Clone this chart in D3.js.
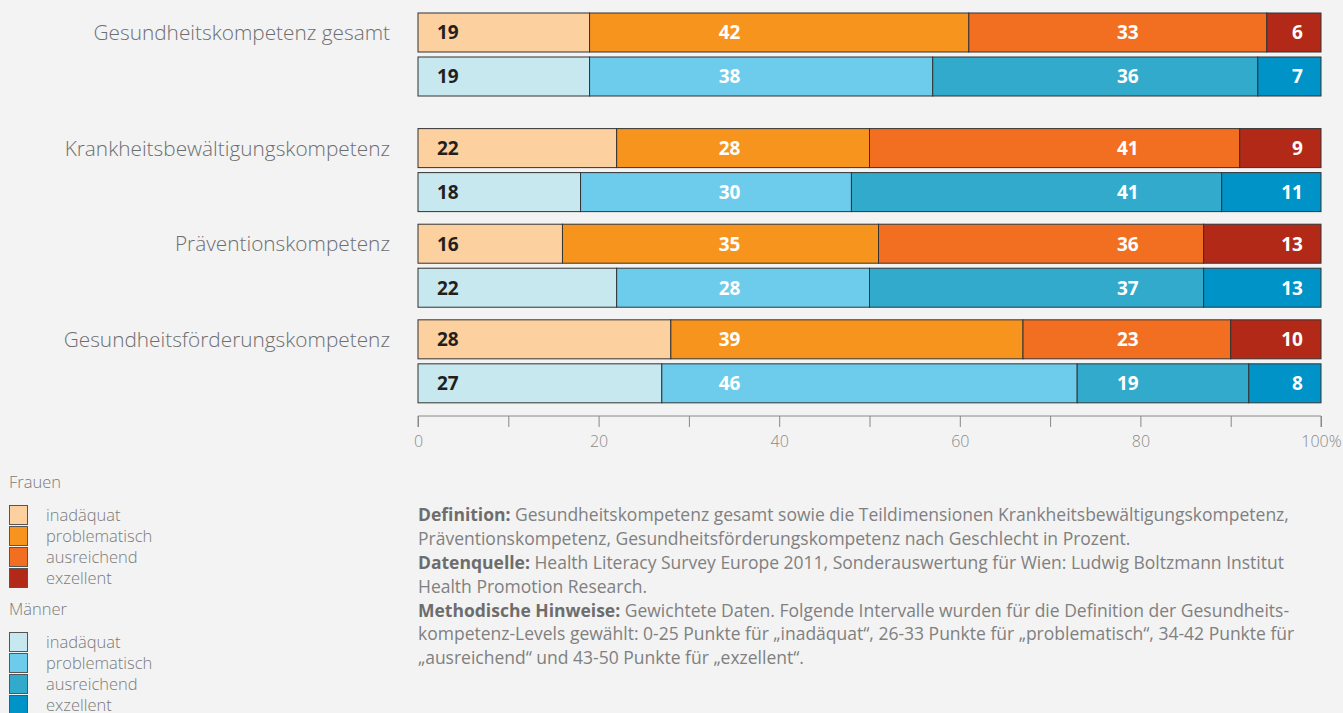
<!DOCTYPE html>
<html>
<head>
<meta charset="utf-8">
<script src="https://d3js.org/d3.v7.min.js"></script>
<style>
  body { margin: 0; background: #f3f3f3; }
  svg { display: block; font-family: "Open Sans", sans-serif; }
</style>
</head>
<body>
<div id="chart"></div>
<script>
// data
var categories = ["Gesundheitskompetenz gesamt", "Krankheitsbewältigungskompetenz",
                  "Präventionskompetenz", "Gesundheitsförderungskompetenz"];
var levels = ["inadäquat", "problematisch", "ausreichend", "exzellent"];
var groups = ["Frauen", "Männer"];
var frauen = [[19, 42, 33, 6], [22, 28, 41, 9], [16, 35, 36, 13], [28, 39, 23, 10]];
var maenner = [[19, 38, 36, 7], [18, 30, 41, 11], [22, 28, 37, 13], [27, 46, 19, 8]];
var xTicks = [0, 10, 20, 30, 40, 50, 60, 70, 80, 90, 100];
var xTickLabels = ["0", "", "20", "", "40", "", "60", "", "80", "", "100%"];
var colorsF = ["#fdd09f", "#f7941d", "#f26f21", "#b22a17"];
var colorsM = ["#c7e8ef", "#6dcbec", "#32aacb", "#0093c8"];

var notes = [
  [["Definition: ", "Gesundheitskompetenz gesamt sowie die Teildimensionen Krankheitsbewältigungskompetenz,"]],
  [["", "Präventionskompetenz, Gesundheitsförderungskompetenz nach Geschlecht in Prozent."]],
  [["Datenquelle: ", "Health Literacy Survey Europe 2011, Sonderauswertung für Wien: Ludwig Boltzmann Institut"]],
  [["", "Health Promotion Research."]],
  [["Methodische Hinweise: ", "Gewichtete Daten. Folgende Intervalle wurden für die Definition der Gesundheits-"]],
  [["", "kompetenz-Levels gewählt: 0-25 Punkte für „inadäquat“, 26-33 Punkte für „problematisch“, 34-42 Punkte für"]],
  [["", "„ausreichend“ und 43-50 Punkte für „exzellent“."]]
];

var width = 1343, height = 713;

var svg = d3.select("#chart").append("svg")
  .attr("width", width)
  .attr("height", height);

svg.append("rect").attr("width", width).attr("height", height).attr("fill", "#f3f3f3");

var x = d3.scaleLinear().domain([0, 100]).range([418, 1321]);

// rows: first block has some extra room below it
var y = d3.scaleBand().domain(categories).range([13, 403 - 20]).paddingInner(0.13).paddingOuter(0);
var extra = 20;
function rowTop(c, i) { return y(c) + (i > 0 ? extra : 0); }
var barH = 39, barGap = 5;

// label anchors in percent (columns used in the original)
var labelAt = [3.3, 34.5, 78.6, 98];
var labelAnchor = ["middle", "middle", "middle", "end"];

categories.forEach(function(c, i) {
  [frauen[i], maenner[i]].forEach(function(vals, g) {
    var top = rowTop(c, i) + g * (barH + barGap);
    var cols = g === 0 ? colorsF : colorsM;
    var ends = d3.cumsum(vals);
    var row = svg.append("g");
    row.selectAll("rect")
      .data(vals)
      .enter()
      .append("rect")
        .attr("x", function(d, k) { return x(ends[k] - d); })
        .attr("y", top)
        .attr("width", function(d) { return x(d) - x(0); })
        .attr("height", barH)
        .attr("fill", function(d, k) { return cols[k]; })
        .attr("stroke", "#333")
        .attr("stroke-width", 1);
    row.selectAll("text")
      .data(vals)
      .enter()
      .append("text")
        .attr("x", function(d, k) { return x(labelAt[k]); })
        .attr("y", top + barH / 2)
        .attr("dy", "0.36em")
        .attr("text-anchor", function(d, k) { return labelAnchor[k]; })
        .attr("font-size", 19)
        .attr("font-weight", 700)
        .attr("fill", function(d, k) { return k === 0 ? "#231f20" : "#fff"; })
        .text(function(d) { return d; });
  });
  svg.append("text")
    .attr("x", 390)
    .attr("y", rowTop(c, i) + barH / 2)
    .attr("dy", "0.36em")
    .attr("text-anchor", "end")
    .attr("font-size", 20.8)
    .attr("font-weight", 300)
    .attr("fill", "#6d6e70")
    .text(c);
});

// x axis
var axis = svg.append("g")
  .attr("transform", "translate(0,416)")
  .call(d3.axisBottom(x).tickValues(xTicks).tickSize(11).tickFormat(function(d, i) { return xTickLabels[i]; }));
axis.select(".domain").attr("stroke", "#888").attr("d", "M" + x(0) + ",11V0H" + x(100) + "V11");
axis.selectAll(".tick line").attr("stroke", "#888");
axis.selectAll(".tick text")
  .attr("y", 20)
  .attr("font-size", 16)
  .attr("font-weight", 300)
  .attr("font-family", "Open Sans, sans-serif")
  .attr("fill", "#8a8a8a");

// legend
var legend = svg.append("g").attr("font-size", 16.5).attr("fill", "#7a7a7a").attr("font-weight", 300);
groups.forEach(function(gName, g) {
  var top = 482 + g * 127;
  var cols = g === 0 ? colorsF : colorsM;
  legend.append("text").attr("x", 9).attr("y", top).attr("dy", "0.36em").text(gName);
  levels.forEach(function(l, k) {
    var sy = 505 + g * 127 + k * 21;
    legend.append("rect")
      .attr("x", 9.5).attr("y", sy + 0.5)
      .attr("width", 18).attr("height", 19)
      .attr("fill", cols[k]).attr("stroke", "#555");
    legend.append("text").attr("x", 46).attr("y", sy + 10).attr("dy", "0.36em").text(l);
  });
});

// notes
var noteG = svg.append("g").attr("font-size", 17.5).attr("fill", "#808080");
notes.forEach(function(line, i) {
  var t = noteG.append("text")
    .attr("x", 418)
    .attr("y", 515 + i * 23.8)
    .attr("dy", "0.36em");
  line.forEach(function(p) {
    if (p[0]) t.append("tspan").attr("font-weight", 700).attr("fill", "#6d6d6d").text(p[0]);
    t.append("tspan").attr("font-weight", 400).text(p[1]);
  });
});
</script>
</body>
</html>
